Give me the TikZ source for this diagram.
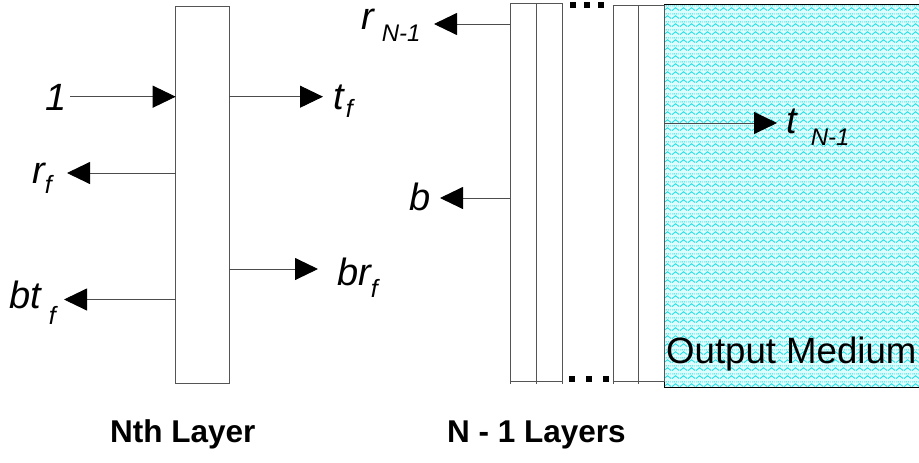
\documentclass[tikz,border=0pt]{standalone}
\usepackage{fontspec}
\setmainfont{Liberation Sans}
\usetikzlibrary{arrows.meta,patterns}
\pgfdeclarepatternformonly{zigzagpat}{\pgfqpoint{0pt}{0pt}}{\pgfqpoint{8pt}{7.5pt}}{\pgfqpoint{8pt}{7.5pt}}{%
  \pgfsetlinewidth{1pt}%
  \pgfpathmoveto{\pgfqpoint{0pt}{1.5pt}}%
  \pgfpathlineto{\pgfqpoint{4pt}{4.5pt}}%
  \pgfpathlineto{\pgfqpoint{8pt}{1.5pt}}%
  \pgfusepath{stroke}%
  \pgfpathrectangle{\pgfqpoint{0.5pt}{6pt}}{\pgfqpoint{1pt}{1pt}}%
  \pgfpathrectangle{\pgfqpoint{2.5pt}{6pt}}{\pgfqpoint{1pt}{1pt}}%
  \pgfpathrectangle{\pgfqpoint{4.5pt}{6pt}}{\pgfqpoint{1pt}{1pt}}%
  \pgfpathrectangle{\pgfqpoint{6.5pt}{6pt}}{\pgfqpoint{1pt}{1pt}}%
  \pgfusepath{fill}%
}
\definecolor{boxline}{RGB}{85,85,85}
\definecolor{medium}{RGB}{222,252,252}
\definecolor{zig}{RGB}{40,225,230}
\tikzset{
  layerbox/.style={draw=boxline, line width=0.9pt, inner sep=0pt, outer sep=0pt, anchor=north west},
  arr/.style={draw=black!70, line width=0.9pt, -{Triangle[length=23pt,width=22pt,color=black]}},
  lbl/.style={anchor=base west, inner sep=0pt, font=\fontsize{38}{38}\selectfont\itshape},
  title/.style={anchor=base west, inner sep=0pt, font=\fontsize{31.5}{31.5}\selectfont\bfseries},
  dotsq/.style={fill=black, inner sep=0pt, minimum width=6pt, minimum height=5.5pt}
}
\begin{document}
\begin{tikzpicture}[x=1pt,y=-1pt]
\useasboundingbox (0,0) rectangle (919,463);
% output medium
\fill[medium] (664,4) rectangle (925,387);
\fill[pattern=zigzagpat, pattern color=zig] (664,4) rectangle (925,387);
\draw[black, line width=1pt] (925,4) -- (664,4) -- (664,387) -- (925,387);
\node[inner sep=0pt, outer sep=0pt, minimum width=261pt, minimum height=383pt, anchor=north west] (om) at (664,4) {};
% Nth layer box
\node[layerbox, minimum width=53.3pt, minimum height=376.3pt] (nth) at (175.7,6.7) {};
% N-1 layers
\node[layerbox, minimum width=26pt, minimum height=378pt] (g1a) at (510,3.3) {};
\node[layerbox, minimum width=26pt, minimum height=378pt] (g1b) at (536,3.3) {};
\node[layerbox, minimum width=25pt, minimum height=376pt] (g2a) at (613,5.3) {};
\node[layerbox, minimum width=26pt, minimum height=376pt] (g2b) at (638,5.3) {};
\draw[boxline, line width=0.9pt] (g1a.south west) -- ++(0,2.5) (g1b.south west) -- ++(0,2.5) (g1b.south east) -- ++(0,2.5);
\draw[boxline, line width=0.9pt] (g2a.south west) -- ++(0,2.5) (g2b.south west) -- ++(0,2.5);
% dots
\node[dotsq] (d1) at (573,5) {};
\node[dotsq] (d2) at (587,5) {};
\node[dotsq] (d3) at (601,5) {};
\node[dotsq] (d4) at (572,379) {};
\node[dotsq] (d5) at (589,379) {};
\node[dotsq] (d6) at (606,379) {};
% labels
\node[lbl] (one) at (45,110) {1};
\node[lbl] (rf) at (32,183) {r\hspace{0pt}\raisebox{-10pt}{\fontsize{25}{25}\selectfont f}};
\node[lbl] (btf) at (9,308) {bt\hspace{8pt}\raisebox{-16pt}{\fontsize{25}{25}\selectfont f}};
\node[lbl] (tf) at (333,109) {t\hspace{2pt}\raisebox{-8pt}{\fontsize{25}{25}\selectfont f}};
\node[lbl] (brf) at (337,285) {br\hspace{0pt}\raisebox{-12pt}{\fontsize{25}{25}\selectfont f}};
\node[lbl] (rN) at (361,29) {r\hspace{8pt}\raisebox{-12pt}{\fontsize{24}{24}\selectfont N-1}};
\node[lbl] (b) at (409,210) {b};
\node[lbl] (tN) at (786,133) {t\hspace{14pt}\raisebox{-12pt}{\fontsize{24}{24}\selectfont N-1}};
\node[anchor=base west, inner sep=0pt, font=\fontsize{36.6}{36.6}\selectfont] (omtxt) at (666,363) {Output Medium};
\node[title] (t1) at (110,442) {Nth Layer};
\node[title] (t2) at (447,442) {N - 1 Layers};
% arrow tips
\coordinate (c1) at (70,96.7);
\coordinate (ctf) at (323,96.7);
\coordinate (crf) at (67,173);
\coordinate (cbrf) at (318,269);
\coordinate (cbtf) at (64,299.5);
\coordinate (crN) at (434,24);
\coordinate (cb) at (440,198);
\coordinate (ctN) at (777,123);
% arrows
\draw[arr] (c1) -- (nth.west |- c1);
\draw[arr] (nth.east |- ctf) -- (ctf);
\draw[arr] (nth.west |- crf) -- (crf);
\draw[arr] (nth.east |- cbrf) -- (cbrf);
\draw[arr] (nth.west |- cbtf) -- (cbtf);
\draw[arr] (g1a.west |- crN) -- (crN);
\draw[arr] (g1a.west |- cb) -- (cb);
\draw[arr] (om.west |- ctN) -- (ctN);
\end{tikzpicture}
\end{document}
